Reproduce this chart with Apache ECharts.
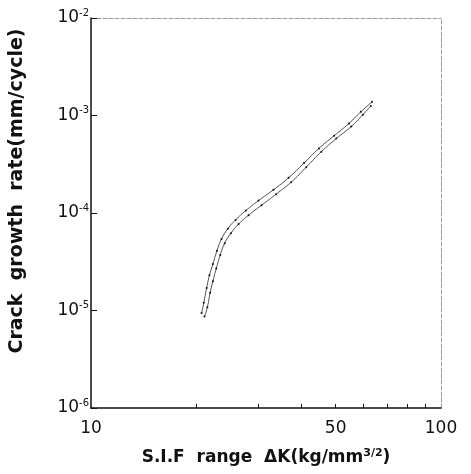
<!DOCTYPE html>
<html>
<head>
<meta charset="utf-8">
<script src="https://cdn.jsdelivr.net/npm/echarts@6/dist/echarts.min.js"></script>
<style>
  html, body { margin: 0; padding: 0; background: #fff; }
  #chart-container { width: 471px; height: 474px; }
</style>
</head>
<body>
<div id="chart-container"></div>
<script>
// 读图得到的数据：ΔK (kg/mm^3/2) 与 da/dN (mm/cycle)
var specimenA = [
    [20.7, 9.4e-6], [21.0, 1.2e-5], [21.4, 1.7e-5], [21.8, 2.3e-5], [22.3, 3.0e-5],
    [22.9, 4.1e-5], [23.6, 5.4e-5], [24.6, 6.9e-5], [25.9, 8.5e-5], [27.7, 1.06e-4],
    [30.1, 1.34e-4], [33.2, 1.73e-4], [36.7, 2.3e-4], [40.6, 3.25e-4], [44.8, 4.6e-4],
    [49.5, 6.2e-4], [54.6, 8.3e-4], [59.0, 1.09e-3], [63.5, 1.38e-3]
];
var specimenB = [
    [21.1, 8.7e-6], [21.5, 1.08e-5], [21.9, 1.52e-5], [22.3, 2.0e-5], [22.8, 2.7e-5],
    [23.4, 3.7e-5], [24.1, 4.9e-5], [25.1, 6.2e-5], [26.4, 7.7e-5], [28.2, 9.5e-5],
    [30.7, 1.2e-4], [33.8, 1.56e-4], [37.3, 2.07e-4], [41.2, 2.95e-4], [45.5, 4.25e-4],
    [50.2, 5.8e-4], [55.4, 7.7e-4], [59.8, 1.02e-3], [63.0, 1.25e-3]
];
var xLabelValues = [10, 50, 100];
var xTickValues = [20, 30, 40, 50, 60, 70, 80, 90];

var font = '"DejaVu Sans", sans-serif';
var myChart = echarts.init(document.getElementById('chart-container'));

function curve(data) {
    return {
        type: 'line',
        data: data,
        smooth: true,
        symbol: 'circle',
        symbolSize: 2,
        showSymbol: true,
        lineStyle: { color: '#222', width: 0.8 },
        itemStyle: { color: '#111' },
        silent: true
    };
}

var option = {
    backgroundColor: '#fff',
    animation: false,
    grid: { left: 91, right: 30, top: 18, bottom: 66 },
    xAxis: [{
        type: 'log',
        logBase: 10,
        min: 10,
        max: 100,
        name: 'S.I.F  range  ΔK(kg/mm{s|3/2})',
        nameLocation: 'middle',
        nameGap: 40,
        nameTextStyle: {
            fontFamily: font, fontSize: 17, fontWeight: 'bold', color: '#111',
            rich: { s: { fontFamily: font, fontSize: 11, fontWeight: 'bold', color: '#111', padding: [0, 0, 8, 0] } }
        },
        axisLine: { lineStyle: { color: '#111', width: 1.5 } },
        axisTick: { inside: true, length: 4, customValues: xTickValues, lineStyle: { color: '#111' } },
        axisLabel: {
            customValues: xLabelValues,
            fontFamily: font, fontSize: 17, color: '#111', margin: 12
        },
        splitLine: { show: false }
    }, {
        type: 'log',
        min: 10,
        max: 100,
        position: 'top',
        axisLine: { lineStyle: { color: '#999', width: 1, type: 'dashed' } },
        axisTick: { show: false },
        axisLabel: { show: false },
        splitLine: { show: false }
    }],
    yAxis: [{
        type: 'log',
        logBase: 10,
        min: 1e-6,
        max: 1e-2,
        interval: 1,
        name: 'Crack  growth  rate(mm/cycle)',
        nameLocation: 'middle',
        nameGap: 64,
        nameTextStyle: {
            fontFamily: font, fontSize: 19, fontWeight: 'bold', color: '#111',
            padding: [0, 0, 0, 44]
        },
        axisLine: { lineStyle: { color: '#111', width: 1.5 } },
        axisTick: { inside: true, length: 6, lineStyle: { color: '#111' } },
        axisLabel: {
            margin: 2,
            formatter: function (v) {
                return '{b|10}{s|-' + Math.round(-Math.log10(v)) + '}';
            },
            rich: {
                b: { fontFamily: font, fontSize: 17, color: '#111' },
                s: { fontFamily: font, fontSize: 10, color: '#111', padding: [0, 0, 10, 0] }
            }
        },
        splitLine: { show: false }
    }, {
        type: 'log',
        min: 1e-6,
        max: 1e-2,
        position: 'right',
        axisLine: { lineStyle: { color: '#999', width: 1, type: 'dashed' } },
        axisTick: { show: false },
        axisLabel: { show: false },
        splitLine: { show: false }
    }],
    series: [curve(specimenA), curve(specimenB)]
};

myChart.setOption(option);
</script>
</body>
</html>
